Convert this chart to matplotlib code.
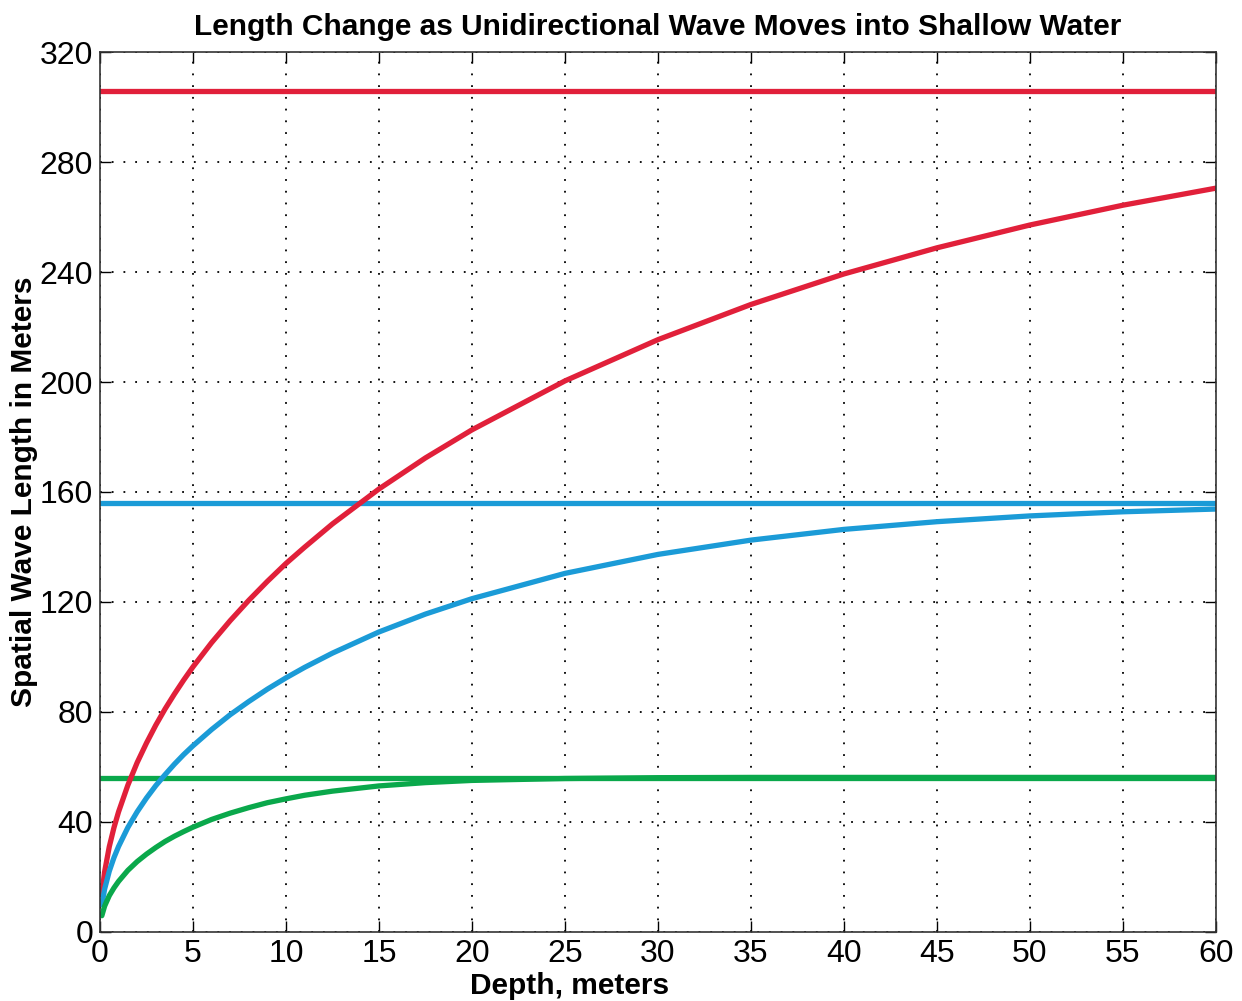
""" wave length vs depth for three wave periods
    deep water length (flat lines) and shoaling length (curves)
"""

import matplotlib.pyplot as plt

plt.rcParams['font.family'] = ['Liberation Sans', 'DejaVu Sans']

# depth in meters
depth = [0.1, 0.25, 0.5, 0.75, 1, 1.5, 2, 2.5, 3, 3.5, 4, 4.5, 5, 6, 7, 8, 9,
         10, 11, 12.5, 15, 17.5, 20, 25, 30, 35, 40, 45, 50, 55, 60]

# wave length in meters
red_len = [13.9, 21.9, 31.0, 37.9, 43.7, 53.4, 61.6, 68.7, 75.2, 81.1, 86.5,
           91.6, 96.4, 105.2, 113.2, 120.6, 127.5, 134.0, 139.9, 148.4, 161.1,
           172.4, 182.6, 200.4, 215.4, 228.2, 239.3, 248.8, 257.1, 264.3,
           270.5]
blue_len = [9.9, 15.6, 22.1, 27.0, 31.1, 38.0, 43.7, 48.7, 53.2, 57.2, 61.0,
            64.5, 67.7, 73.6, 79.0, 83.8, 88.3, 92.4, 96.2, 101.4, 109.1,
            115.6, 121.2, 130.4, 137.3, 142.5, 146.4, 149.2, 151.3, 152.8,
            153.8]
green_len = [5.9, 9.4, 13.2, 16.0, 18.4, 22.4, 25.6, 28.3, 30.7, 32.9, 34.8,
             36.5, 38.1, 40.9, 43.2, 45.2, 47.0, 48.4, 49.7, 51.2, 53.1, 54.3,
             55.1, 55.8, 56.1, 56.2, 56.2, 56.2, 56.2, 56.2, 56.2]

# deep water length (flat lines)
red_deep = 306
blue_deep = 156
green_deep = 56

colors = {"red": "#e1203a", "blue": "#1b9bd7", "green": "#0aa84b"}

fig = plt.figure(figsize=(12.42, 10.01), dpi=100)
ax = fig.add_axes([0.0805, 0.069, 0.8985, 0.879])

lw = 3.8
ax.axhline(red_deep, color=colors["red"], lw=lw)
ax.axhline(blue_deep, color=colors["blue"], lw=lw)
ax.axhline(green_deep, color=colors["green"], lw=lw)
for ys, c in [(red_len, "red"), (blue_len, "blue"), (green_len, "green")]:
    ax.plot(depth, ys, color=colors[c], lw=lw, solid_capstyle="round",
            solid_joinstyle="round")

ax.set_xlim(0, 60)
ax.set_ylim(0, 320)
ax.set_xticks(range(0, 61, 5))
ax.set_yticks(range(0, 321, 40))
ax.grid(True, color="black", linestyle=(0, (1, 5.5)), lw=1.3)
ax.tick_params(direction="in", length=8, width=1, top=True, right=True,
               labelsize=23, pad=5)
for s in ax.spines.values():
    s.set_linewidth(1.2)
    s.set_color("#333333")

ax.set_title("Length Change as Unidirectional Wave Moves into Shallow Water",
             fontsize=21.5, fontweight="bold", pad=12)
ax.set_xlabel("Depth, meters", fontsize=21.5, fontweight="bold", labelpad=0)
ax.xaxis.set_label_coords(0.421, -0.046)
ax.set_ylabel("Spatial Wave Length in Meters", fontsize=21.5,
              fontweight="bold", labelpad=1)

plt.savefig("out.png", dpi=100)
